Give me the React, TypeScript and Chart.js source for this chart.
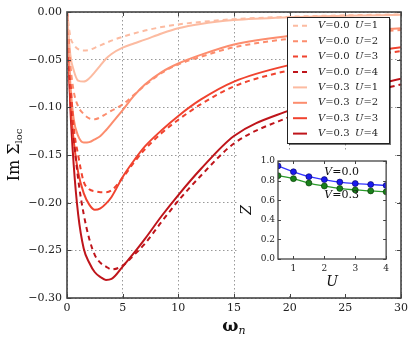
import React, { useEffect, useRef } from "react";
import { Chart, registerables } from "chart.js";

Chart.register(...registerables);

// ---------- data ----------
const OMEGA = [0, 0.3, 0.6, 1.0, 1.5, 2.0, 2.5, 3.0, 3.5, 4.0, 5.0, 6.0, 7.0, 8.5, 10, 12, 15, 20, 25, 30];

const V00_U1 = [0, -0.026, -0.034, -0.039, -0.0405, -0.0398, -0.0376, -0.035, -0.0325, -0.030, -0.026, -0.0225, -0.0195, -0.0158, -0.013, -0.0105, -0.0075, -0.005, -0.0035, -0.0025];
const V00_U2 = [0, -0.055, -0.083, -0.099, -0.107, -0.1115, -0.1125, -0.1105, -0.107, -0.1035, -0.097, -0.087, -0.077, -0.064, -0.055, -0.047, -0.037, -0.028, -0.022, -0.019];
const V00_U3 = [0, -0.07, -0.12, -0.15, -0.178, -0.186, -0.188, -0.189, -0.189, -0.187, -0.174, -0.158, -0.144, -0.127, -0.113, -0.097, -0.078, -0.061, -0.049, -0.041];
const V00_U4 = [0, -0.08, -0.13, -0.175, -0.212, -0.238, -0.255, -0.263, -0.267, -0.270, -0.266, -0.255, -0.243, -0.220, -0.198, -0.172, -0.138, -0.110, -0.090, -0.076];

const V03_U1 = [0, -0.045, -0.061, -0.072, -0.073, -0.0695, -0.063, -0.056, -0.049, -0.044, -0.0374, -0.033, -0.029, -0.0225, -0.017, -0.0125, -0.0085, -0.0055, -0.004, -0.003];
const V03_U2 = [0, -0.075, -0.112, -0.130, -0.137, -0.1365, -0.1335, -0.130, -0.124, -0.117, -0.103, -0.088, -0.076, -0.063, -0.054, -0.045, -0.034, -0.025, -0.020, -0.017];
const V03_U3 = [0, -0.092, -0.135, -0.168, -0.19, -0.202, -0.2075, -0.206, -0.201, -0.194, -0.173, -0.156, -0.141, -0.124, -0.109, -0.092, -0.073, -0.0556, -0.045, -0.037];
const V03_U4 = [0, -0.10, -0.16, -0.212, -0.248, -0.263, -0.273, -0.278, -0.281, -0.280, -0.267, -0.253, -0.238, -0.214, -0.192, -0.165, -0.130, -0.103, -0.084, -0.070];

const SERIES = [V00_U1, V00_U2, V00_U3, V00_U4, V03_U1, V03_U2, V03_U3, V03_U4];
const LEGEND_V = ["0.0", "0.0", "0.0", "0.0", "0.3", "0.3", "0.3", "0.3"];
const LEGEND_U = ["1", "2", "3", "4", "1", "2", "3", "4"];
const COLORS = ["#fcbba1", "#fc8d6e", "#f0432f", "#bf151b", "#fcbba1", "#fc8d6e", "#f0432f", "#bf151b"];
const DASHED = [true, true, true, true, false, false, false, false];

// inset data
const INSET_U = [0.5, 1.0, 1.5, 2.0, 2.5, 3.0, 3.5, 4.0];
const Z_V00 = [0.95, 0.89, 0.84, 0.81, 0.785, 0.77, 0.76, 0.75];
const Z_V03 = [0.85, 0.82, 0.775, 0.745, 0.72, 0.705, 0.695, 0.685];
const INSET_X_TICKS = [1, 2, 3, 4];

const SERIF = '"DejaVu Serif", serif';

function drawParts(
  ctx: CanvasRenderingContext2D,
  parts: { t: string; font: string; dy?: number }[],
  x: number,
  y: number,
  align: "left" | "center" = "left"
) {
  let total = 0;
  for (const p of parts) {
    ctx.font = p.font;
    total += ctx.measureText(p.t).width;
  }
  let cx = align === "center" ? x - total / 2 : x;
  ctx.textAlign = "left";
  for (const p of parts) {
    ctx.font = p.font;
    ctx.fillText(p.t, cx, y + (p.dy || 0));
    cx += ctx.measureText(p.t).width;
  }
}

function drawFrameAndTicks(chart: any, len: number, color: string, width: number) {
  const ctx = chart.ctx as CanvasRenderingContext2D;
  const a = chart.chartArea;
  const xs = chart.scales.x;
  const ys = chart.scales.y;
  ctx.save();
  ctx.strokeStyle = color;
  ctx.lineWidth = 1;
  ctx.beginPath();
  for (const t of xs.ticks) {
    const px = Math.round(xs.getPixelForValue(t.value)) + 0.5;
    ctx.moveTo(px, a.bottom);
    ctx.lineTo(px, a.bottom - len);
    ctx.moveTo(px, a.top);
    ctx.lineTo(px, a.top + len);
  }
  for (const t of ys.ticks) {
    const py = Math.round(ys.getPixelForValue(t.value)) + 0.5;
    ctx.moveTo(a.left, py);
    ctx.lineTo(a.left + len, py);
    ctx.moveTo(a.right, py);
    ctx.lineTo(a.right - len, py);
  }
  ctx.stroke();
  ctx.lineWidth = width;
  ctx.strokeRect(a.left, a.top, a.right - a.left, a.bottom - a.top);
  ctx.restore();
}

const mainDecor = {
  id: "mainDecor",
  afterDatasetsDraw(chart: any) {
    const ctx = chart.ctx as CanvasRenderingContext2D;
    drawFrameAndTicks(chart, 4, "#444", 1.6);

    // legend box
    const lx = 287, ly = 17, lw = 102, lh = 126;
    ctx.save();
    ctx.fillStyle = "rgba(0,0,0,0.55)";
    ctx.fillRect(lx + 2, ly + 2, lw, lh);
    ctx.fillStyle = "#fff";
    ctx.fillRect(lx, ly, lw, lh);
    ctx.strokeStyle = "#222";
    ctx.lineWidth = 1;
    ctx.strokeRect(lx + 0.5, ly + 0.5, lw, lh);
    ctx.textBaseline = "middle";
    chart.data.datasets.forEach((ds: any, i: number) => {
      const y = 25.8 + i * 15.4;
      ctx.strokeStyle = ds.borderColor;
      ctx.lineWidth = 2;
      ctx.setLineDash(ds.borderDash || []);
      ctx.beginPath();
      ctx.moveTo(293, y);
      ctx.lineTo(307, y);
      ctx.stroke();
      ctx.setLineDash([]);
      ctx.fillStyle = "#222";
      drawParts(ctx, [
        { t: "V", font: `italic 10px ${SERIF}` },
        { t: "=" + LEGEND_V[i], font: `10px ${SERIF}` },
      ], 318, y);
      drawParts(ctx, [
        { t: "U", font: `italic 10px ${SERIF}` },
        { t: "=" + LEGEND_U[i], font: `10px ${SERIF}` },
      ], 355, y);
    });
    ctx.restore();
  },
  afterDraw(chart: any) {
    const ctx = chart.ctx as CanvasRenderingContext2D;
    const a = chart.chartArea;
    ctx.save();
    ctx.fillStyle = "#111";
    ctx.textBaseline = "middle";
    // x label
    drawParts(ctx, [
      { t: "ω", font: `bold 17px ${SERIF}` },
      { t: "n", font: `italic 11px ${SERIF}`, dy: 4 },
    ], (a.left + a.right) / 2, 327, "center");
    // y label
    ctx.translate(15, (a.top + a.bottom) / 2);
    ctx.rotate(-Math.PI / 2);
    drawParts(ctx, [
      { t: "Im Σ", font: `16px ${SERIF}` },
      { t: "loc", font: `10px ${SERIF}`, dy: 4 },
    ], 0, 0, "center");
    ctx.restore();
  },
};

const insetDecor = {
  id: "insetDecor",
  beforeDraw(chart: any) {
    const ctx = chart.ctx as CanvasRenderingContext2D;
    ctx.save();
    ctx.fillStyle = "#fff";
    ctx.fillRect(0, 0, chart.width, chart.height);
    ctx.restore();
  },
  afterDatasetsDraw(chart: any) {
    const ctx = chart.ctx as CanvasRenderingContext2D;
    const a = chart.chartArea;
    drawFrameAndTicks(chart, 3, "#444", 1.3);
    ctx.save();
    ctx.fillStyle = "#111";
    ctx.textBaseline = "middle";
    const xs = chart.scales.x;
    const ys = chart.scales.y;
    drawParts(ctx, [
      { t: "V", font: `italic 11px ${SERIF}` },
      { t: "=0.0", font: `11px ${SERIF}` },
    ], xs.getPixelForValue(2.0), ys.getPixelForValue(0.89));
    drawParts(ctx, [
      { t: "V", font: `italic 11px ${SERIF}` },
      { t: "=0.3", font: `11px ${SERIF}` },
    ], xs.getPixelForValue(2.0), ys.getPixelForValue(0.65));
    // axis labels
    ctx.font = `italic 14px ${SERIF}`;
    ctx.textAlign = "center";
    ctx.fillText("U", (a.left + a.right) / 2, 131);
    ctx.translate(9, (a.top + a.bottom) / 2);
    ctx.rotate(-Math.PI / 2);
    ctx.fillText("Z", 0, 0);
    ctx.restore();
  },
};

function fmtMinus(v: number, d: number) {
  const s = Math.abs(v) < 1e-9 ? (0).toFixed(d) : Math.abs(v).toFixed(d);
  return v < -1e-9 ? "\u2212" + s : s;
}

export default function App() {
  const mainRef = useRef<HTMLCanvasElement>(null);
  const insetRef = useRef<HTMLCanvasElement>(null);

  useEffect(() => {
    const datasets = SERIES.map((arr, i) => ({
      label: `V=${LEGEND_V[i]} U=${LEGEND_U[i]}`,
      data: OMEGA.map((x, j) => ({ x, y: arr[j] })),
      borderColor: COLORS[i],
      backgroundColor: COLORS[i],
      borderWidth: 2,
      borderDash: DASHED[i] ? [5, 4] : [],
      pointRadius: 0,
      cubicInterpolationMode: "monotone" as const,
      fill: false,
    }));

    const main = new Chart(mainRef.current!, {
      type: "line",
      data: { datasets },
      options: {
        animation: false,
        responsive: false,
        devicePixelRatio: 1,
        layout: { padding: { left: 0, right: 15, top: 12, bottom: 0 } },
        plugins: { legend: { display: false }, tooltip: { enabled: false } },
        scales: {
          x: {
            type: "linear",
            min: 0,
            max: 30,
            afterFit: (s: any) => { s.height = 43; },
            ticks: {
              stepSize: 5,
              padding: 4,
              color: "#222",
              font: { family: SERIF, size: 11 },
              callback: (v: any) => String(v),
            },
            grid: { color: "rgba(0,0,0,0.5)", lineWidth: 0.8, drawTicks: false },
            border: { display: false, dash: [1.5, 2.5] },
          },
          y: {
            type: "linear",
            min: -0.3,
            max: 0,
            afterFit: (s: any) => { s.width = 67; },
            ticks: {
              stepSize: 0.05,
              padding: 5,
              color: "#222",
              font: { family: SERIF, size: 11 },
              callback: (v: any) => fmtMinus(Number(v), 2),
            },
            grid: { color: "rgba(0,0,0,0.5)", lineWidth: 0.8, drawTicks: false },
            border: { display: false, dash: [1.5, 2.5] },
          },
        },
      },
      plugins: [mainDecor],
    });

    const inset = new Chart(insetRef.current!, {
      type: "line",
      data: {
        datasets: [
          {
            label: "V=0.0",
            data: INSET_U.map((u, j) => ({ x: u, y: Z_V00[j] })),
            borderColor: "#3333ff",
            backgroundColor: "#1a1aee",
            borderWidth: 1.3,
            pointRadius: 3,
            pointBorderColor: "#000055",
            pointBorderWidth: 0.6,
            pointBackgroundColor: "#1a1aee",
            tension: 0.4,
          },
          {
            label: "V=0.3",
            data: INSET_U.map((u, j) => ({ x: u, y: Z_V03[j] })),
            borderColor: "#2a9a2a",
            backgroundColor: "#1a801a",
            borderWidth: 1.3,
            pointRadius: 3,
            pointBorderColor: "#003300",
            pointBorderWidth: 0.6,
            pointBackgroundColor: "#1a801a",
            tension: 0.4,
          },
        ],
      },
      options: {
        animation: false,
        responsive: false,
        devicePixelRatio: 1,
        layout: { padding: { left: 0, right: 4, top: 10, bottom: 0 } },
        plugins: { legend: { display: false }, tooltip: { enabled: false } },
        scales: {
          x: {
            type: "linear",
            min: 0.5,
            max: 4,
            afterFit: (s: any) => { s.height = 35; },
            afterBuildTicks: (s: any) => { s.ticks = INSET_X_TICKS.map((v) => ({ value: v })); },
            ticks: {
              padding: 4,
              color: "#222",
              font: { family: SERIF, size: 9 },
              callback: (v: any) => String(v),
            },
            grid: { display: false, drawTicks: false },
            border: { display: false },
          },
          y: {
            type: "linear",
            min: 0,
            max: 1,
            afterFit: (s: any) => { s.width = 40; },
            ticks: {
              stepSize: 0.2,
              padding: 3,
              color: "#222",
              font: { family: SERIF, size: 9 },
              callback: (v: any) => Number(v).toFixed(1),
            },
            grid: { display: false, drawTicks: false },
            border: { display: false },
          },
        },
      },
      plugins: [insetDecor],
    });

    return () => {
      main.destroy();
      inset.destroy();
    };
  }, []);

  return (
    <div style={{ position: "fixed", left: 0, top: 0, width: 416, height: 341, background: "#fff" }}>
      <canvas
        ref={mainRef}
        width={416}
        height={341}
        style={{ position: "absolute", left: 0, top: 0, width: 416, height: 341 }}
      />
      <canvas
        ref={insetRef}
        width={155}
        height={143}
        style={{ position: "absolute", left: 238, top: 151, width: 155, height: 143 }}
      />
    </div>
  );
}
